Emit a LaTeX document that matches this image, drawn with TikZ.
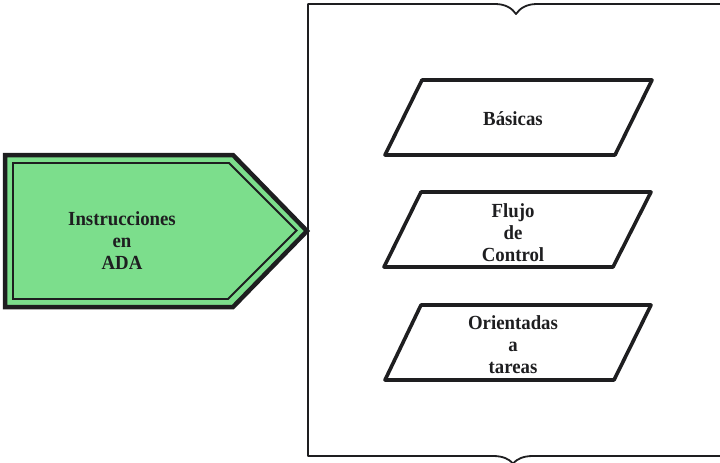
\documentclass[tikz,border=0pt]{standalone}
\usepackage{fontspec}
\setmainfont{Liberation Serif}
\newfontfamily\lblfont[FakeStretch=0.94]{Liberation Serif}
\definecolor{arrowgreen}{RGB}{124,222,140}
\definecolor{ink}{RGB}{30,30,32}
\tikzset{
  para/.style={draw=ink, line width=3.6pt, line join=round, fill=white},
  lbl/.style={font=\lblfont\fontsize{20}{22}\selectfont\bfseries, text=ink, align=center, inner sep=0pt},
  brace/.style={draw=ink, line width=1.8pt, line join=round},
}
\begin{document}
\begin{tikzpicture}[x=1pt,y=-1pt]
\useasboundingbox (0,0) rectangle (720,463);
% green arrow shape
\draw[draw=ink, line width=4.5pt, line join=miter, fill=arrowgreen]
  (5,155) -- (233,155) -- (307,231) -- (233,307) -- (5,307) -- cycle;
\draw[draw=ink, line width=1.8pt, line join=miter]
  (13,163) -- (229,163) -- (296.5,230.5) -- (228,299) -- (13,299) -- cycle;
\node[lbl] (main) at (122,241) {Instrucciones\\en\\ADA};
% brace frame
\draw[brace] (720,4) -- (537,4) .. controls (527,4) and (520,8) .. (516,14)
  .. controls (512,8) and (505,4) .. (495,4) -- (308,4) -- (308,456)
  -- (493,456) .. controls (503,456) and (509,459) .. (513,463.5)
  .. controls (517,459) and (523,456) .. (533,456) -- (720,456);
% parallelograms
\draw[para] (422,80) -- (652,80) -- (615,155) -- (385,155) -- cycle;
\draw[para] (421,192) -- (651,192) -- (613,267) -- (384,267) -- cycle;
\draw[para] (421,305) -- (651,305) -- (614,380) -- (385,380) -- cycle;
\node[lbl] (basicas) at (513,119) {Básicas};
\node[lbl] (flujo) at (513,233) {Flujo\\de\\Control};
\node[lbl] (orient) at (513,345) {Orientadas\\a\\tareas};
\end{tikzpicture}
\end{document}
